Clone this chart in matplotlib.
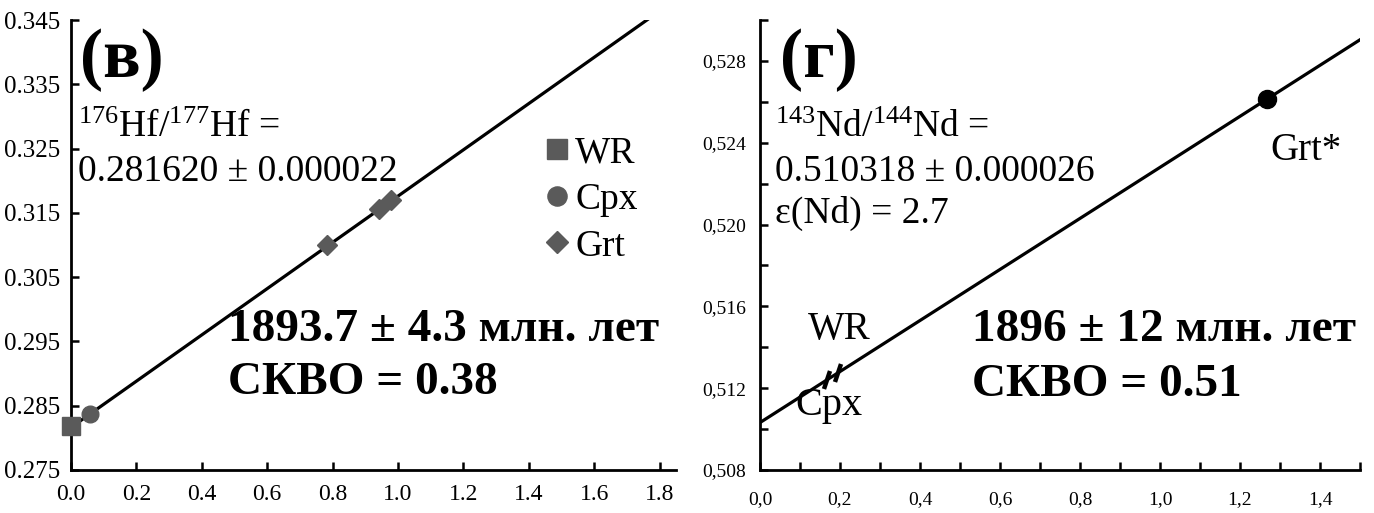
import matplotlib
matplotlib.use('Agg')
import matplotlib.pyplot as plt
from matplotlib.markers import MarkerStyle
from matplotlib.transforms import Affine2D
from matplotlib.ticker import MultipleLocator, FuncFormatter

plt.rcParams['font.family'] = ['Liberation Serif', 'DejaVu Serif']
plt.rcParams['mathtext.fontset'] = 'custom'
plt.rcParams['mathtext.rm'] = 'Liberation Serif'
plt.rcParams['mathtext.it'] = 'Liberation Serif:italic'
plt.rcParams['mathtext.bf'] = 'Liberation Serif:bold'

W, H = 1374, 513

# Lu-Hf isochron (panel в)
hf_wr_x = [0.0]
hf_wr_y = [0.2818]
hf_cpx_x = [0.058]
hf_cpx_y = [0.2837]
hf_grt_x = [0.783, 0.942, 0.980]
hf_grt_y = [0.3100, 0.3156, 0.3170]
hf_line_x = [0.0, 1.85]
hf_line_y = [0.28162, 0.34820]

# Sm-Nd isochron (panel г)
nd_names = ['WR', 'Cpx', 'Grt*']
nd_x = [0.168, 0.196, 1.267]
nd_y = [0.51241, 0.51276, 0.52613]
nd_line_x = [0.0, 1.5]
nd_line_y = [0.510318, 0.529034]

grey = '#5a5a5a'

fig = plt.figure(figsize=(W / 100, H / 100), dpi=100)
ax1 = fig.add_axes([71 / W, 1 - 470 / H, (676 - 71) / W, 450 / H])
ax2 = fig.add_axes([760 / W, 1 - 470 / H, (1360 - 760) / W, 450 / H])

for ax in (ax1, ax2):
    for s in ('top', 'right'):
        ax.spines[s].set_visible(False)
    for s in ('left', 'bottom'):
        ax.spines[s].set_linewidth(2)
    ax.tick_params(direction='in', length=6, width=1.8)

# ---- left panel
ax1.plot(hf_line_x, hf_line_y, color='black', lw=2.3, zorder=2)
ax1.plot(hf_wr_x, hf_wr_y, 's', color=grey, ms=13, label='WR', clip_on=False, zorder=3)
ax1.plot(hf_cpx_x, hf_cpx_y, 'o', color=grey, ms=12, label='Cpx', clip_on=False, zorder=3)
ax1.plot(hf_grt_x, hf_grt_y, 'D', color=grey, ms=10, label='Grt', clip_on=False, zorder=3)
ax1.set_xlim(0, 1.85)
ax1.set_ylim(0.275, 0.345)
ax1.set_xticks([0.0, 0.2, 0.4, 0.6, 0.8, 1.0, 1.2, 1.4, 1.6, 1.8])
ax1.set_yticks([0.275, 0.285, 0.295, 0.305, 0.315, 0.325, 0.335, 0.345])
ax1.xaxis.set_major_formatter(FuncFormatter(lambda v, p: f'{v:.1f}'))
ax1.yaxis.set_major_formatter(FuncFormatter(lambda v, p: f'{v:.3f}'))
ax1.tick_params(axis='y', labelsize=18, pad=8)
ax1.tick_params(axis='x', labelsize=17, pad=10)

leg = ax1.legend(loc='upper left', bbox_to_anchor=(476 / 605, (470 - 136) / 450), frameon=False,
                 fontsize=27, handlelength=0.55, handletextpad=0.2, labelspacing=0.32,
                 borderaxespad=0, borderpad=0, markerscale=1.15)

fig.text(80 / W, 1 - 60 / H, '(в)', fontsize=50, fontweight='bold', va='center', ha='left')
fig.text(78 / W, 1 - 128 / H, r'$^{176}$Hf/$^{177}$Hf =', fontsize=27, va='center', ha='left')
fig.text(78 / W, 1 - 172 / H, '0.281620 ± 0.000022', fontsize=27, va='center', ha='left')
fig.text(228 / W, 1 - 330 / H, '1893.7 ± 4.3 млн. лет', fontsize=34, fontweight='bold',
         va='center', ha='left')
fig.text(228 / W, 1 - 383 / H, 'СКВО = 0.38', fontsize=34, fontweight='bold',
         va='center', ha='left')
fig.text(455 / W, 1 - 536 / H, r'$^{176}$Lu/$^{177}$Hf', fontsize=27, va='center', ha='center')

# ---- right panel
ax2.plot(nd_line_x, nd_line_y, color='black', lw=2.3, zorder=2)
bar = MarkerStyle('|', transform=Affine2D().rotate_deg(-17))
ax2.plot(nd_x[:2], nd_y[:2], linestyle='none', marker=bar, ms=13, mew=3.2, color='black', zorder=3)
ax2.plot(nd_x[2:], nd_y[2:], 'o', color='black', ms=13, zorder=3)
ax2.set_xlim(0, 1.5)
ax2.set_ylim(0.508, 0.530)
ax2.xaxis.set_major_locator(MultipleLocator(0.2))
ax2.xaxis.set_minor_locator(MultipleLocator(0.1))
ax2.yaxis.set_major_locator(MultipleLocator(0.004))
ax2.yaxis.set_minor_locator(MultipleLocator(0.002))
ax2.xaxis.set_major_formatter(FuncFormatter(lambda v, p: f'{v:.1f}'.replace('.', ',')))
ax2.yaxis.set_major_formatter(FuncFormatter(lambda v, p: f'{v:.3f}'.replace('.', ',')))
ax2.tick_params(which='minor', direction='in', length=6, width=1.8)
ax2.tick_params(axis='y', labelsize=14, pad=10)
ax2.tick_params(axis='x', labelsize=14, pad=15)

fig.text(780 / W, 1 - 60 / H, '(г)', fontsize=50, fontweight='bold', va='center', ha='left')
fig.text(775 / W, 1 - 128 / H, r'$^{143}$Nd/$^{144}$Nd =', fontsize=27, va='center', ha='left')
fig.text(775 / W, 1 - 172 / H, '0.510318 ± 0.000026', fontsize=27, va='center', ha='left')
fig.text(775 / W, 1 - 213 / H, 'ε(Nd) = 2.7', fontsize=27, va='center', ha='left')
fig.text(1270 / W, 1 - 150 / H, nd_names[2], fontsize=28, va='center', ha='left')
fig.text(808 / W, 1 - 330 / H, nd_names[0], fontsize=28, va='center', ha='left')
fig.text(795 / W, 1 - 405 / H, nd_names[1], fontsize=29, va='center', ha='left')
fig.text(972 / W, 1 - 330 / H, '1896 ± 12 млн. лет', fontsize=34, fontweight='bold',
         va='center', ha='left')
fig.text(972 / W, 1 - 385 / H, 'СКВО = 0.51', fontsize=34, fontweight='bold',
         va='center', ha='left')

fig.savefig('out.png', dpi=100)
